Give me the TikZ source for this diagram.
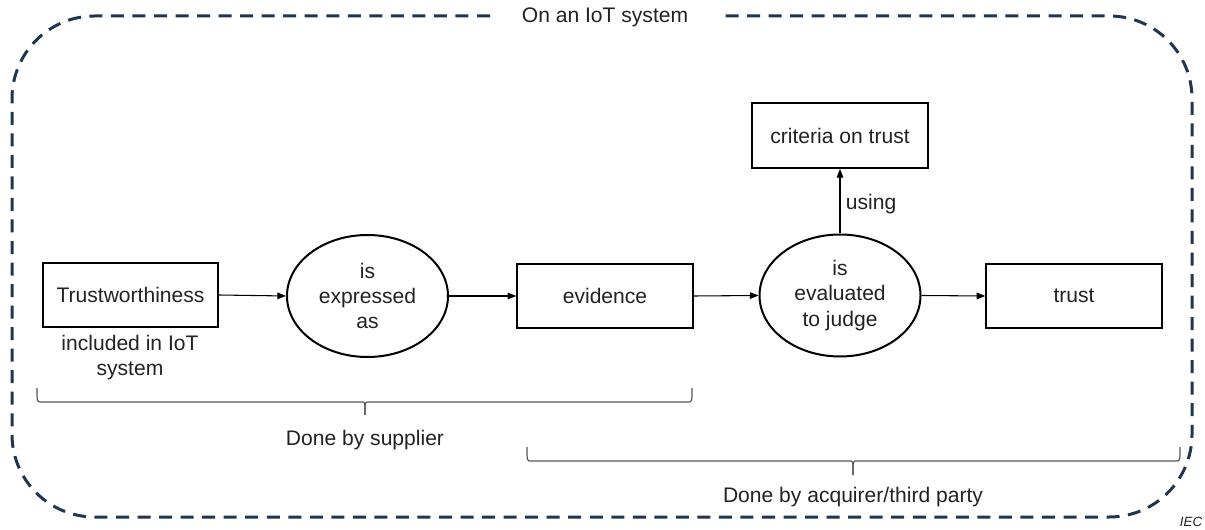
\documentclass[tikz,border=0pt]{standalone}
\usepackage{fontspec}
\setmainfont{Liberation Sans}
\usetikzlibrary{arrows.meta,shapes.geometric}
\definecolor{framecol}{HTML}{1F3550}
\definecolor{txt}{HTML}{222222}
\definecolor{bracecol}{HTML}{555555}
\begin{document}
\begin{tikzpicture}[x=0.75pt,y=-0.75pt,
  every node/.style={text=txt,font=\fontsize{15.8pt}{19pt}\selectfont},
  box/.style={draw=black,line width=1.5pt,minimum width=131.5pt,minimum height=48pt,inner sep=0pt,align=center},
  oval/.style={draw=black,line width=1.5pt,ellipse,minimum width=120.75pt,minimum height=91.5pt,inner sep=0pt,align=center},
  conn/.style={draw=black,line width=0.8pt,-{Triangle[length=6.5pt,width=5pt]}},
  framedash/.style={draw=framecol,line width=2.25pt,dash pattern=on 9.75pt off 6.4pt},
  bracepath/.style={draw=bracecol,line width=0.9pt},
  plain/.style={inner sep=0pt,align=center}]
\useasboundingbox (0,0) rectangle (1205,530);
% frame
\draw[framedash,rounded corners=62pt] (490,16) -- (12,16) -- (12,517) -- (1192,517) -- (1192,16) -- (722,16);
\node[plain] (title) at (605,17) {On an IoT system};
% nodes
\node[box] (tw) at (130.5,295) {Trustworthiness};
\node[oval] (ex) at (367.5,296) {is\\expressed\\as};
\node[box] (ev) at (605,296) {evidence};
\node[oval] (ej) at (840,295.5) {is\\evaluated\\to judge};
\node[box] (tr) at (1074,296) {trust};
\node[box,minimum width=132pt,minimum height=48.75pt] (cr) at (840,135.5) {criteria on trust};
\node[plain] (inc) at (130,357.5) {included in IoT\\system};
% connectors
\draw[conn] (tw.east) -- (ex.west);
\draw[conn] (ex.east) -- (ev.west);
\draw[conn] (ev.east) -- (ej.west);
\draw[conn] (ej.east) -- (tr.west);
\draw[conn] (ej.north) -- node[plain,right=4pt,pos=0.45] (using) {using} (cr.south);
% braces
\coordinate (b1l) at (37,388);
\coordinate (b1m) at (365,415);
\coordinate (b1r) at (692,388);
\draw[bracepath] (b1l) .. controls (37,402) .. (41,402) -- (362,402) .. controls (365,402) .. (b1m);
\draw[bracepath] (b1m) .. controls (365,402) .. (368,402) -- (688,402) .. controls (692,402) .. (b1r);
\node[plain] (sup) at (365,440) {Done by supplier};
\coordinate (b2l) at (527,447);
\coordinate (b2m) at (853,475);
\coordinate (b2r) at (1180,447);
\draw[bracepath] (b2l) .. controls (527,461) .. (531,461) -- (850,461) .. controls (853,461) .. (b2m);
\draw[bracepath] (b2m) .. controls (853,461) .. (856,461) -- (1176,461) .. controls (1180,461) .. (b2r);
\node[plain] (acq) at (853,497) {Done by acquirer/third party};
\node[plain,font=\fontsize{10pt}{12pt}\selectfont\itshape] (iec) at (1191,522) {IEC};
\end{tikzpicture}
\end{document}
